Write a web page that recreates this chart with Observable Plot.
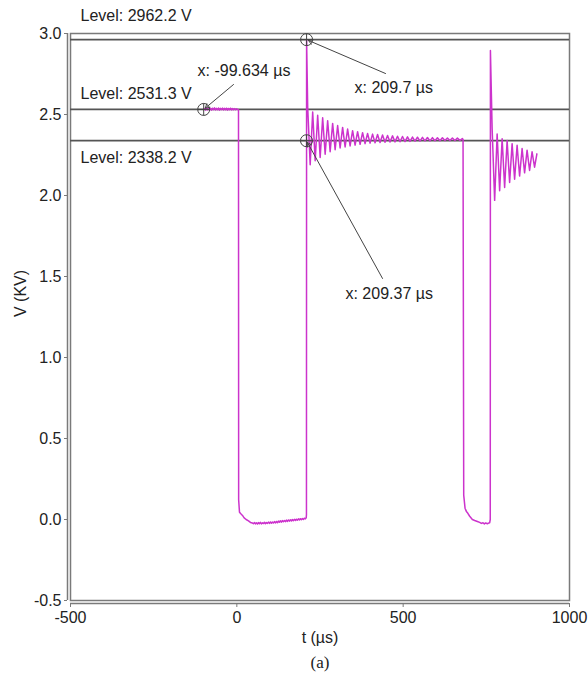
<!DOCTYPE html>
<html>
<head>
<meta charset="utf-8">
<script src="https://cdn.jsdelivr.net/npm/d3@7"></script>
<script src="https://cdn.jsdelivr.net/npm/@observablehq/plot@0.6"></script>
<style>
  html, body { margin: 0; padding: 0; background: #fff; }
  #chart svg { display: block; }
</style>
</head>
<body>
<div id="chart"></div>
<script>
// ---------- data (t in µs, V in kV) ----------
const xTicks = [-500, 0, 500, 1000];
const yTicks = [-0.5, 0.0, 0.5, 1.0, 1.5, 2.0, 2.5, 3.0];

// flat top before the first fall
const highBefore = [[-99.634,2.531],[-97,2.537],[-94,2.527],[-91,2.539],[-88,2.528],[-85,2.540],[-82,2.529],[-79,2.538],[-76,2.527],[-73,2.539],[-70,2.530],[-67,2.541],[-64,2.528],[-61,2.538],[-58,2.529],[-55,2.540],[-52,2.527],[-49,2.538],[-46,2.530],[-43,2.540],[-40,2.528],[-37,2.538],[-34,2.529],[-31,2.539],[-28,2.527],[-25,2.537],[-22,2.530],[-19,2.539],[-16,2.528],[-13,2.537],[-10,2.530],[-7,2.536],[-4,2.529],[-1,2.535],[2,2.531],[5,2.530]];

// first low interval
const lowFirst = [[5.5,0.12],[8,0.045],[12,0.035],[17,0.025],[22,0.01],[28,0.0],[35,-0.008],[41,-0.018],[47,-0.022],[50,-0.026],[53,-0.019],[56,-0.027],[59,-0.02],[62,-0.028],[65,-0.019],[68,-0.026],[71,-0.018],[74,-0.027],[77,-0.02],[80,-0.025],[83,-0.017],[86,-0.026],[89,-0.019],[92,-0.024],[95,-0.016],[98,-0.024],[101,-0.015],[104,-0.023],[107,-0.016],[110,-0.022],[113,-0.013],[116,-0.021],[119,-0.012],[122,-0.02],[125,-0.01],[128,-0.017],[131,-0.008],[134,-0.016],[137,-0.007],[140,-0.014],[143,-0.006],[146,-0.013],[149,-0.004],[152,-0.012],[155,-0.003],[158,-0.01],[161,-0.002],[164,-0.009],[167,0.0],[170,-0.007],[173,0.001],[176,-0.006],[179,0.002],[182,-0.004],[185,0.004],[188,-0.003],[191,0.005],[194,-0.001],[197,0.006],[200,0.0],[203,0.008],[206,0.004],[208.5,0.01],[209.3,0.03]];

// rising edge spike and first ringing
const ringFirst = [[209.7,2.962],[213,2.545],[220.5,2.19],[228,2.515],[235.5,2.215],[243,2.495],[250.5,2.235],[258,2.48],[265.5,2.255],[273,2.462],[280.5,2.27],[288,2.445],[295.5,2.283],[303,2.432],[310.5,2.293],[318,2.42],[325.5,2.30],[333,2.41],[340.5,2.306],[348,2.40],[355.5,2.311],[363,2.394],[370.5,2.316],[378,2.388],[385.5,2.32],[393,2.383],[400.5,2.323],[408,2.379],[415.5,2.325],[423,2.376],[430.5,2.327],[438,2.373],[445.5,2.329],[453,2.37],[460.5,2.33],[468,2.368],[475.5,2.331],[483,2.366],[490.5,2.332],[498,2.364],[505.5,2.333],[513,2.362],[520.5,2.334],[528,2.361],[535.5,2.335],[543,2.36],[550.5,2.336],[558,2.359],[565.5,2.337],[573,2.358],[580.5,2.337],[588,2.357],[595.5,2.338],[603,2.356],[610.5,2.338],[618,2.356],[625.5,2.339],[633,2.355],[640.5,2.339],[648,2.355],[655.5,2.339],[663,2.354],[670.5,2.34],[678,2.352],[680,2.345]];

// second low interval
const lowSecond = [[682,0.15],[686,0.07],[690,0.05],[694,0.04],[700,0.02],[708,0.0],[715,-0.006],[723,-0.012],[730,-0.018],[735,-0.024],[740,-0.02],[744,-0.027],[748,-0.021],[753,-0.026],[757,-0.022],[760,-0.02],[761.8,0.0]];

// second spike and ringing
const ringSecond = [[762.3,2.895],[767.5,2.41],[775,1.97],[782.5,2.38],[790,2.03],[797.5,2.35],[805,2.05],[812.5,2.34],[820,2.08],[827.5,2.32],[835,2.10],[842.5,2.31],[850,2.12],[857.5,2.29],[865,2.14],[872.5,2.28],[880,2.155],[887.5,2.27],[895,2.175],[902,2.257]];

// cursor levels (V) and cursor markers
const levels = [2962.2, 2531.3, 2338.2];
const markerT = [-99.634, 209.7, 209.37];
const markerV = [2.5313, 2.9622, 2.3382];

// ---------- layout of annotations (not data) ----------
const levelLabelDy = [-24, -16, 17];
const annotLabelT = [-118, 353.7, 326.6];
const annotLabelV = [2.772, 2.667, 1.395];
const annotTailT = [-10, 446.9, 437.9];
const annotTailV = [2.685, 2.753, 1.488];

// ---------- build ----------
const trace = [...highBefore, ...lowFirst, ...ringFirst, ...lowSecond, ...ringSecond]
  .map(([t, v]) => ({t, v}));
const markers = markerT.map((t, i) => ({
  t, v: markerV[i],
  label: `x: ${t} µs`,
  lt: annotLabelT[i], lv: annotLabelV[i],
  at: annotTailT[i], av: annotTailV[i]
}));

const crosshair = {
  draw(ctx, size) {
    const r = Math.sqrt(size / Math.PI);
    ctx.moveTo(r, 0);
    ctx.arc(0, 0, r, 0, 2 * Math.PI);
    ctx.moveTo(-r, 0); ctx.lineTo(r, 0);
    ctx.moveTo(0, -r); ctx.lineTo(0, r);
  }
};

const gray = "#7a7a7a";
const ink = "#222";
const traceColor = "#cc33cc";

const chart = Plot.plot({
  width: 588,
  height: 683,
  marginLeft: 70,
  marginRight: 19,
  marginTop: 33,
  marginBottom: 83,
  x: {domain: [-500, 1000]},
  y: {domain: [-0.5, 3.0]},
  style: {fontFamily: "'Liberation Sans', Arial, sans-serif", fontSize: "16px", color: ink, background: "#fff"},
  marks: [
    Plot.frame({stroke: gray, strokeWidth: 1.5}),
    Plot.ruleX([-500], {dx: -3, stroke: gray, strokeWidth: 1.5}),
    Plot.ruleY([-0.5], {dy: 3, stroke: gray, strokeWidth: 1.5}),
    Plot.axisX(xTicks, {dy: 3, tickSize: 4, tickPadding: 4, stroke: gray, tickFormat: d => String(d), label: null}),
    Plot.axisY(yTicks, {dx: -3, tickSize: 3, tickPadding: 3, stroke: gray, tickFormat: d => d.toFixed(1), label: null}),
    Plot.ruleY(levels, {y: d => d / 1000, stroke: "#555", strokeWidth: 1.8}),
    ...levels.map((lv, i) => Plot.text([lv], {
      x: -500, y: d => d / 1000, text: d => `Level: ${d.toFixed(1)} V`,
      textAnchor: "start", dx: 10, dy: levelLabelDy[i], fill: ink
    })),
    Plot.line(trace, {x: "t", y: "v", stroke: traceColor, strokeWidth: 1.5}),
    Plot.dot(markers, {x: "t", y: "v", r: 6, symbol: crosshair, stroke: "#444", fill: "none", strokeWidth: 1}),
    Plot.arrow(markers, {x1: "at", y1: "av", x2: "t", y2: "v", stroke: "#444", strokeWidth: 1, headLength: 7, insetEnd: 2}),
    Plot.text(markers, {x: "lt", y: "lv", text: "label", textAnchor: "start", fill: ink}),
    Plot.text(["t (µs)"], {frameAnchor: "bottom", dy: 42, fill: ink}),
    Plot.text(["V (KV)"], {frameAnchor: "left", dx: -50, rotate: -90, fill: ink}),
    Plot.text(["(a)"], {frameAnchor: "bottom", dy: 67, fill: ink, fontFamily: "'Liberation Serif', 'Times New Roman', serif", fontSize: 17})
  ]
});
document.getElementById("chart").appendChild(chart);
</script>
</body>
</html>
